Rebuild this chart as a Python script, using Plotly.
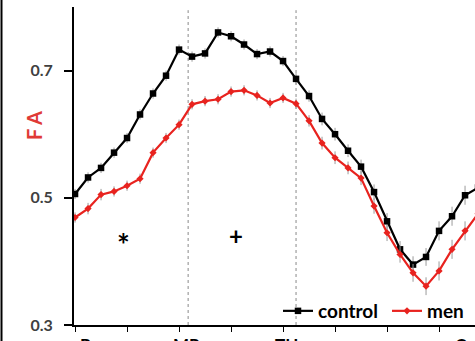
import plotly.graph_objects as go

# position index along the tract
pos = list(range(32))

control = [0.506, 0.532, 0.547, 0.571, 0.594, 0.631, 0.664, 0.692, 0.733, 0.722,
           0.727, 0.760, 0.754, 0.741, 0.726, 0.730, 0.715, 0.687, 0.660, 0.624,
           0.600, 0.574, 0.549, 0.509, 0.463, 0.419, 0.395, 0.407, 0.448, 0.471,
           0.504, 0.516]
control_err = [0.008, 0.008, 0.008, 0.008, 0.008, 0.008, 0.008, 0.008, 0.008, 0.008,
               0.008, 0.008, 0.008, 0.008, 0.008, 0.008, 0.008, 0.009, 0.009, 0.010,
               0.010, 0.010, 0.011, 0.012, 0.013, 0.013, 0.013, 0.014, 0.015, 0.015,
               0.015, 0.015]

men = [0.469, 0.483, 0.505, 0.510, 0.519, 0.530, 0.571, 0.594, 0.615, 0.647,
       0.652, 0.655, 0.667, 0.669, 0.661, 0.649, 0.657, 0.648, 0.621, 0.586,
       0.563, 0.547, 0.531, 0.487, 0.445, 0.411, 0.382, 0.361, 0.385, 0.419,
       0.448, 0.475]
men_err = [0.008, 0.009, 0.009, 0.008, 0.008, 0.008, 0.008, 0.008, 0.008, 0.008,
           0.008, 0.008, 0.008, 0.008, 0.008, 0.008, 0.008, 0.008, 0.009, 0.010,
           0.010, 0.010, 0.011, 0.012, 0.013, 0.013, 0.014, 0.014, 0.015, 0.015,
           0.015, 0.015]

region_labels = ["P", "MR", "TH", "C"]
region_label_pos = [0.8, 8.6, 16.3, 29.7]
region_lines = [8.7, 17.0]
y_ticks = [0.3, 0.5, 0.7]

W, H = 475, 341
ML, MR_, MT, MB = 74, 0, 7, 16
px_per_unit = 13.0
x0 = -0.08
x1 = x0 + (W - ML - MR_) / px_per_unit
plot_w = W - ML - MR_
plot_h = H - MT - MB

FONT = "Lato"

fig = go.Figure()
fig.add_trace(go.Scatter(
    x=pos, y=control, name="control", mode="lines+markers",
    line=dict(color="black", width=2.2),
    marker=dict(symbol="square", size=6.5, color="black"),
    error_y=dict(type="data", array=control_err, color="#9a9a9a", thickness=1, width=0),
))
fig.add_trace(go.Scatter(
    x=pos, y=men, name="men", mode="lines+markers",
    line=dict(color="#e8231f", width=2.2),
    marker=dict(symbol="diamond", size=5.5, color="#e8231f"),
    error_y=dict(type="data", array=men_err, color="#9a9a9a", thickness=1, width=0),
))

shapes = []
for xv in region_lines:
    shapes.append(dict(type="line", xref="x", yref="y", x0=xv, x1=xv, y0=0.3, y1=0.795,
                       line=dict(color="#8a8a8a", width=1, dash="dot"), layer="below"))
# neighbouring panel border at the far left
shapes.append(dict(type="line", xref="paper", yref="paper",
                   x0=(1.5 - ML) / plot_w, x1=(1.5 - ML) / plot_w, y0=-1, y1=2,
                   line=dict(color="black", width=2)))

annotations = []
for lab, xv in zip(region_labels, region_label_pos):
    annotations.append(dict(x=xv, y=0, xref="x", yref="paper", text=lab, showarrow=False,
                            yanchor="top", yshift=-7,
                            font=dict(family=FONT, size=17, color="black", weight="bold")))
annotations.append(dict(x=3.7, y=0.428, xref="x", yref="y", text="*", showarrow=False,
                        font=dict(family=FONT, size=30, color="black", weight="bold")))
annotations.append(dict(x=12.4, y=0.440, xref="x", yref="y", text="+", showarrow=False,
                        font=dict(family=FONT, size=24, color="black", weight="bold")))
annotations.append(dict(x=(20 - ML) / plot_w, y=(H - MB - 126) / plot_h, xref="paper", yref="paper",
                        text="F A", textangle=-90, showarrow=False,
                        font=dict(family=FONT, size=20, color="#e03a36", weight="bold")))

fig.update_layout(
    width=W, height=H,
    margin=dict(l=ML, r=MR_, t=MT, b=MB, pad=0, autoexpand=False),
    paper_bgcolor="white", plot_bgcolor="white",
    showlegend=True,
    legend=dict(orientation="h", x=(278 - ML) / plot_w, y=(H - MB - 311) / plot_h,
                xanchor="left", yanchor="middle", itemwidth=30,
                entrywidth=64, entrywidthmode="pixels",
                bgcolor="rgba(0,0,0,0)",
                font=dict(family=FONT, size=19, color="black", weight="bold")),
    xaxis=dict(range=[x0, x1], showgrid=False, zeroline=False,
               showline=True, linecolor="black", linewidth=2,
               ticks="outside", ticklen=5, tickwidth=1, tickcolor="black",
               tickvals=list(range(0, 33, 4)), showticklabels=False),
    yaxis=dict(range=[0.3, 0.8], showgrid=False, zeroline=False,
               showline=True, linecolor="black", linewidth=2,
               ticks="outside", ticklen=8, tickwidth=1.5, tickcolor="black",
               tickvals=y_ticks, ticktext=[f"{v:.1f}" for v in y_ticks],
               ticklabelstandoff=8,
               tickfont=dict(family=FONT, size=16, color="#404040", weight="bold")),
    shapes=shapes, annotations=annotations,
)

fig.write_html("out.html", config={"displayModeBar": False},
               post_script="document.body.style.margin='0';")
